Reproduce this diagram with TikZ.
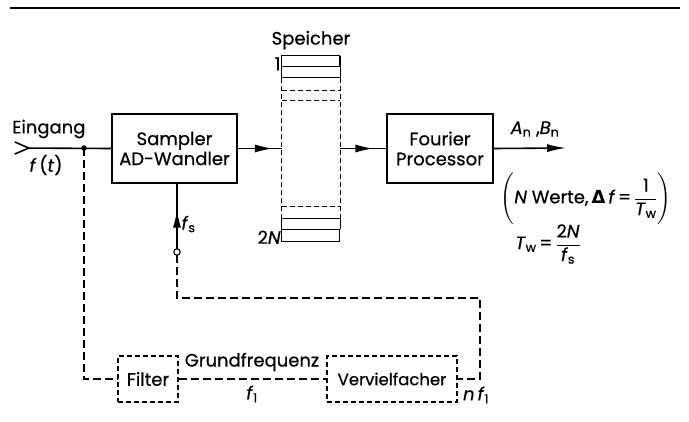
\documentclass[tikz,border=0pt]{standalone}
\usepackage{fontspec}
\usepackage{amsmath}
\setmainfont{Poppins}[UprightFeatures={FakeBold=0.5}, ItalicFeatures={FakeBold=0.5}]
\newfontfamily\dejavu{DejaVu Sans}
\usetikzlibrary{calc, arrows.meta, decorations.markings, positioning}

\tikzset{
  block/.style={draw, line width=1.2pt, align=center, inner sep=0pt, minimum height=69pt},
  dblock/.style={draw, line width=1.1pt, dash pattern=on 5pt off 3pt, inner sep=0pt, minimum height=46pt},
  sig/.style={line width=1.6pt},
  dline/.style={line width=1.3pt, dash pattern=on 8pt off 4pt},
  midarrow/.style={decoration={markings, mark=at position #1 with {\arrow{Latex[length=18pt,width=8pt]}}}, postaction={decorate}},
}

\begin{document}
\begin{tikzpicture}[x=1pt, y=-1pt, font=\fontsize{18}{20}\selectfont]
\useasboundingbox (0,0) rectangle (689,421);

\draw[line width=1.4pt] (10,8) -- (680,8); % top rule

% blocks
\node[block, minimum width=125pt] (sampler) at (174.5,148.5) {Sampler\\AD-Wandler};
\node[block, minimum width=106pt] (fourier) at (440,148.5) {Fourier\\Processor};
\node[minimum width=58pt, minimum height=185pt, inner sep=0pt] (mem) at (311,148.5) {};
\node[dblock, minimum width=60pt] (filter) at (148,379) {Filter};
\node[dblock, minimum width=130pt, font=\fontsize{16.5}{20}\selectfont] (verv) at (392,379) {Vervielfacher};

% memory slots
\draw[line width=1.1pt] (mem.north west) rectangle ++(58,11)
  (mem.north west) ++(0,22) -- ++(0,-22) (mem.north east) ++(0,22) -- ++(0,-22)
  (mem.north west) ++(0,22) -- ++(58,0);
\draw[line width=1.1pt] (mem.south west) rectangle ++(58,-12)
  (mem.south west) ++(0,-12) -- ++(0,-11) (mem.south east) ++(0,-12) -- ++(0,-11)
  (mem.south west) ++(0,-23) -- ++(58,0);
\foreach \y in {35,45} % dashed slots, top
\draw[line width=1.1pt, dash pattern=on 5pt off 3pt] (mem.north west) ++(0,\y) -- ++(58,0);
\foreach \y in {35,23} % dashed slots, bottom
\draw[line width=1.1pt, dash pattern=on 5pt off 3pt] (mem.south west) ++(0,-\y) -- ++(58,0);
\draw[line width=1.1pt, dash pattern=on 5pt off 3pt] (mem.north west) ++(0,22) -- ($(mem.south west)+(0,-23)$)
  (mem.north east) ++(0,22) -- ($(mem.south east)+(0,-23)$);
\node[above=3pt of mem] (speicher) {Speicher};
\node[anchor=east, inner sep=1pt] (one) at ($(mem.north west)+(0,8)$) {1};
\node[anchor=east, inner sep=1pt] (twon) at ($(mem.south west)+(0,-4)$) {2\textit{N}};

% signal path
\coordinate (in) at (14,148);
\coordinate (junc) at (84,148);
\coordinate (out) at (566,148);
\draw[sig, {Straight Barb[reversed, length=14pt, width=12pt, line width=1.6pt]}-] (in) -- (sampler.west);
\fill (junc) circle (2.8pt);
\draw[sig, midarrow=0.8] (sampler.east) -- (mem.west);
\draw[sig, midarrow=0.72] (mem.east) -- (fourier.west);
\draw[sig, -{Latex[length=19pt,width=8pt]}] (fourier.east) -- (out);
\node[anchor=west, inner sep=0pt] (eing) at (12,129) {Eingang};
\node (ft) at (46,165) {\textit{f}\,(\textit{t})};
\node (anbn) at (535,129) {\textit{A}$_\text{n}$ ,\textit{B}$_\text{n}$};

% clock path
\coordinate (fsin) at (177,252);
\coordinate (c1) at (177,298);
\coordinate (c2) at (480,298);
\coordinate (c3) at (480,379);
\draw[sig, midarrow=0.62] (fsin) -- (fsin |- sampler.south);
\draw[line width=1.1pt, fill=white] (fsin) circle (3.2pt);
\node[anchor=west] (fs) at (178,224) {\textit{f}$_\text{s}$};
\draw[dline] ($(fsin)+(0,3)$) -- (c1) -- (c2) -- (c3) -- (verv.east);
\draw[dline] (junc) |- (filter.west);
\draw[dline] (filter.east) -- (verv.west);
\node (grund) at (252,362) {Grundfrequenz};
\node (f1) at (252,394) {\textit{f}$_\text{1}$};
\node (nf1) at (476,395) {\textit{n}\,\textit{f}$_\text{1}$};

% formulas
\node (werte) at (586,199) {$\Biggl(\text{\textit{N} Werte,\,{\dejavu\bfseries Δ}\,\textit{f}}\,\text{=}\,\dfrac{\text{1}}{\text{\textit{T}}_\text{w}}\Biggr)$};
\node (tw) at (548,244) {$\text{\textit{T}}_\text{w}\,\text{=}\,\dfrac{\text{2\textit{N}}}{\text{\textit{f}}_\text{s}}$};

\end{tikzpicture}
\end{document}
